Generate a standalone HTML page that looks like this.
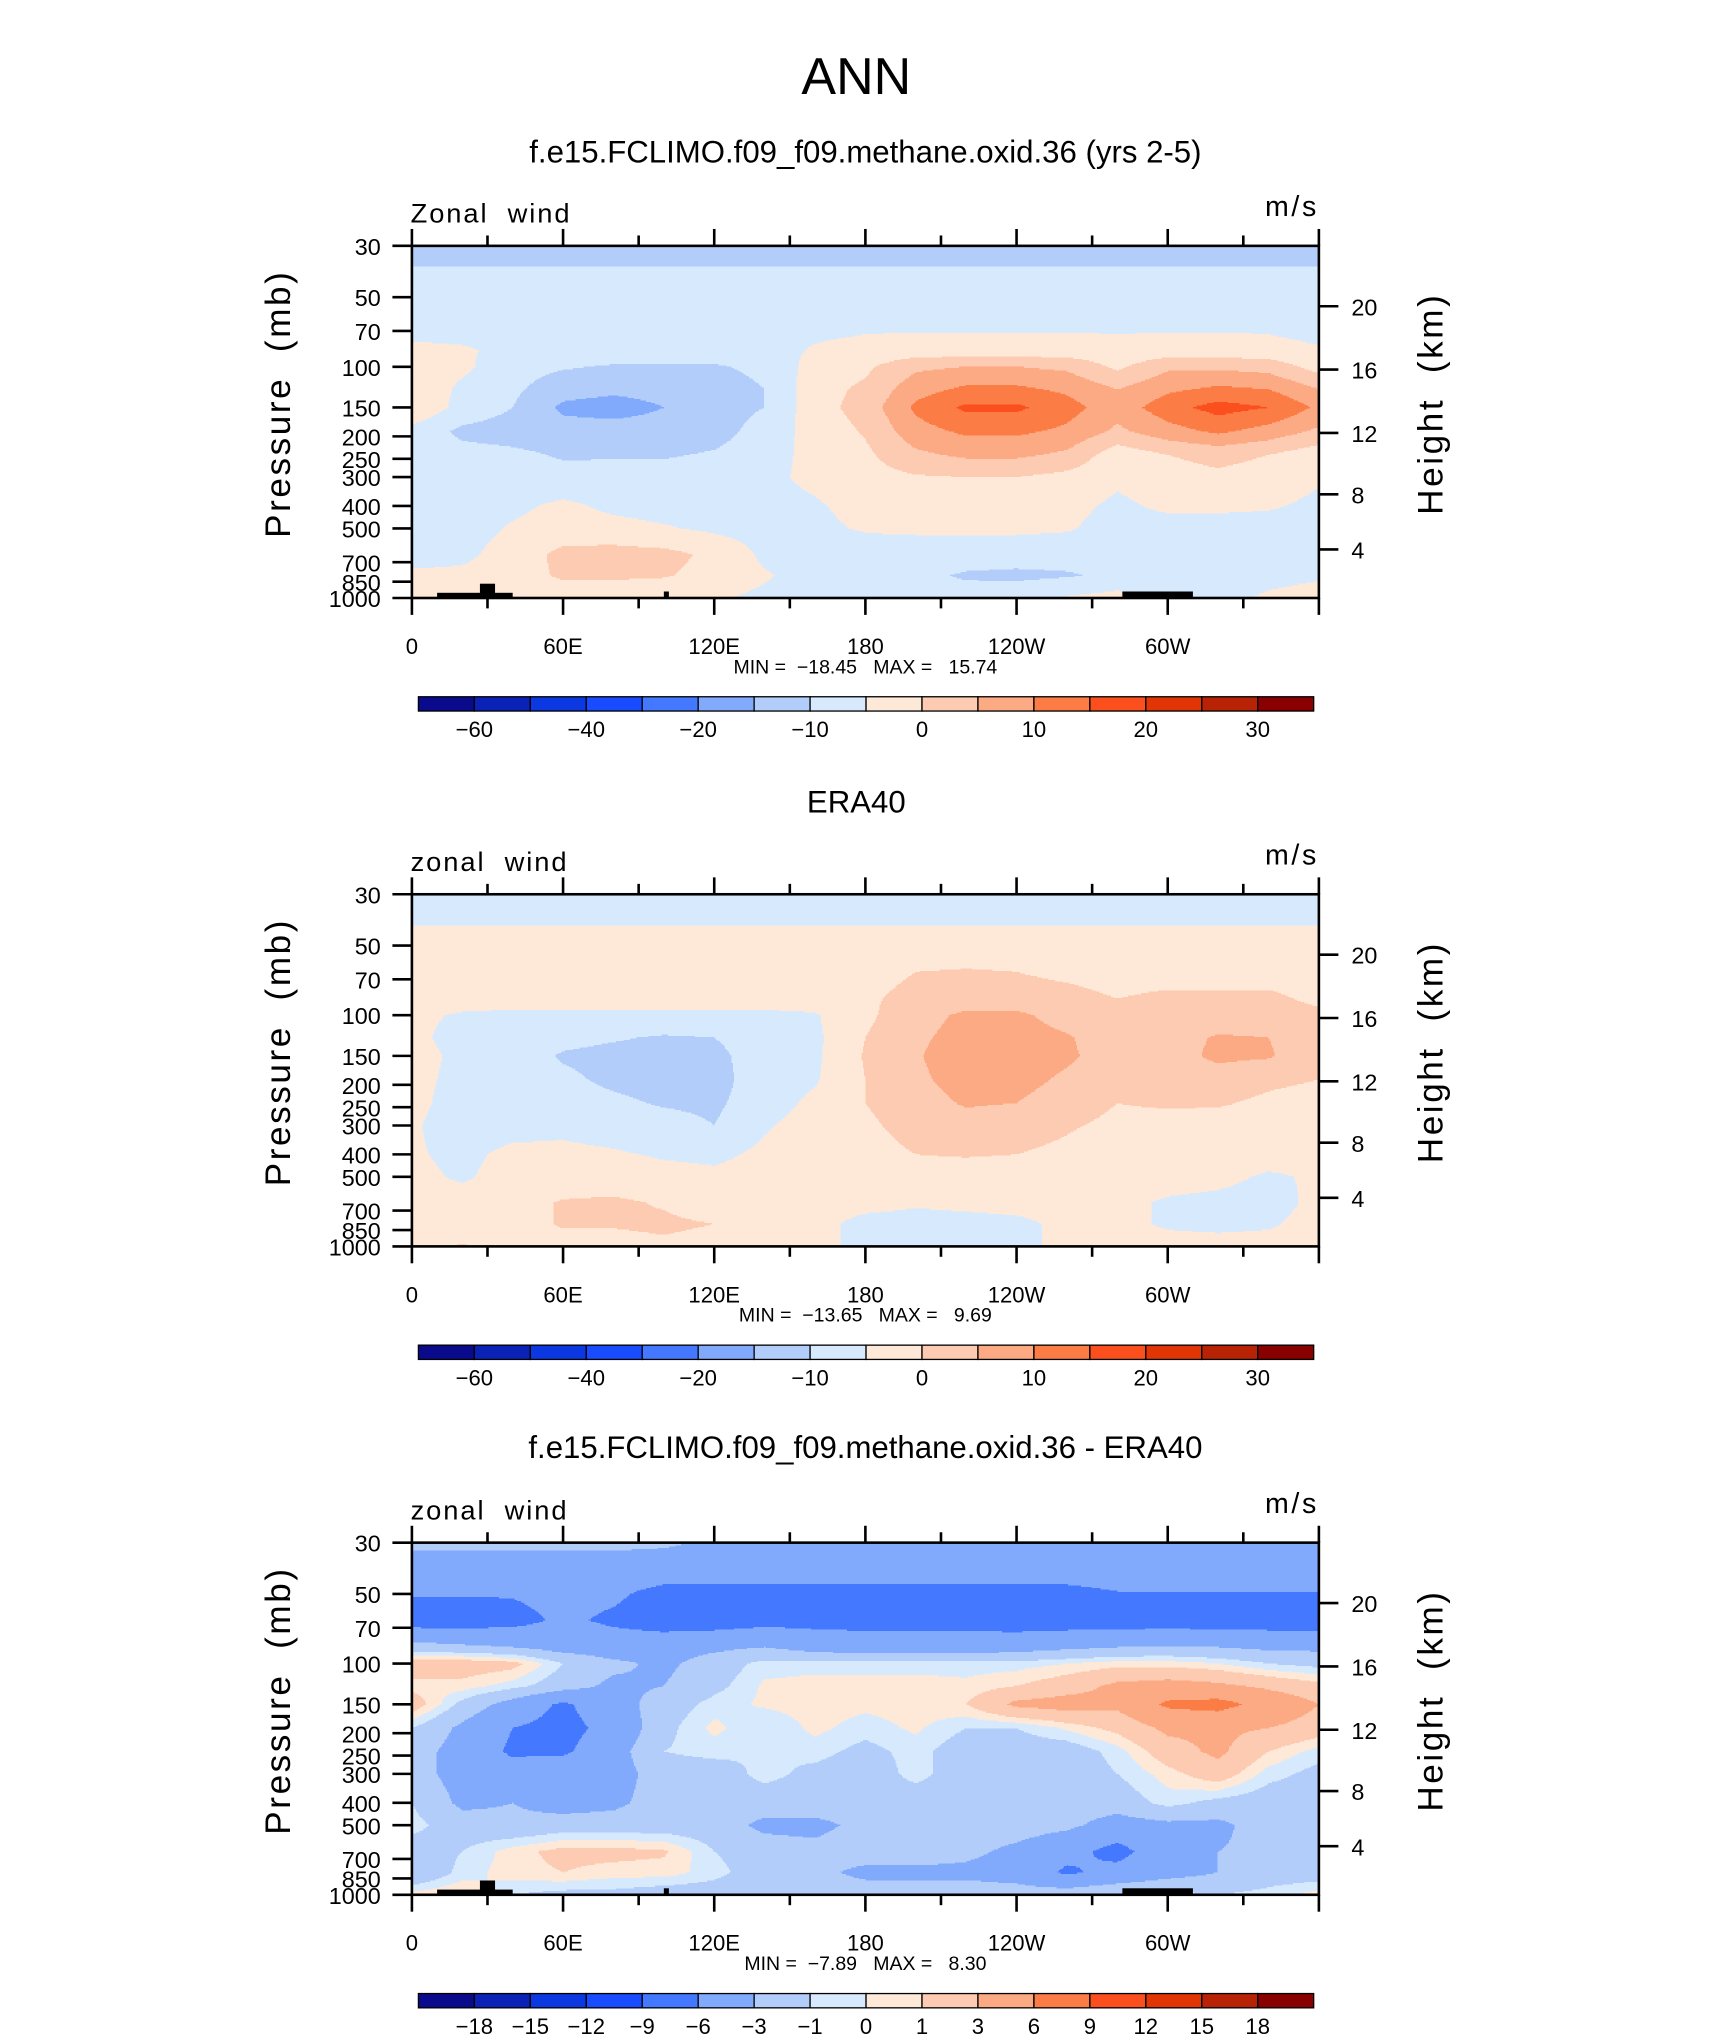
<!DOCTYPE html>
<html><head><meta charset="utf-8">
<style>
html,body{margin:0;padding:0;background:#fff;}
svg{display:block;}
text{font-family:"Liberation Sans",sans-serif;fill:#000;}
</style></head>
<body>
<svg id="fig" xmlns="http://www.w3.org/2000/svg" width="1710" height="2038" viewBox="0 0 1316 1568">
<rect x="0" y="0" width="1316" height="1568" fill="#fff"/>
<text x="659" y="72" font-size="40" text-anchor="middle">ANN</text>
</svg>
<script>
// ---------- DATA ----------
const lons = [0,20,40,60,80,100,120,140,160,180,200,220,240,260,280,300,320,340,360];
const levels = [30,38,50,65,85,100,125,150,190,240,300,400,500,650,800,1000];
const pressureTicks = [30,50,70,100,150,200,250,300,400,500,700,850,1000];
const heightTicks = [4,8,12,16,20];
const lonTickLabels = ["0","60E","120E","180","120W","60W"];
const lonTickValues = [0,60,120,180,240,300];
const absBounds = [-60,-50,-40,-30,-20,-15,-10,-5,0,5,10,15,20,25,30];
const absLabels = ["\u221260","\u221240","\u221220","\u221210","0","10","20","30"];
const absLabelIdx = [0,2,4,6,8,10,12,14];
const diffBounds = [-18,-15,-12,-9,-6,-3,-1,0,1,3,6,9,12,15,18];
const diffLabels = ["\u221218","\u221215","\u221212","\u22129","\u22126","\u22123","\u22121","0","1","3","6","9","12","15","18"];
const diffLabelIdx = [0,1,2,3,4,5,6,7,8,9,10,11,12,13,14];
const colors = ["#0a0a8c","#0b22b6","#0b38e0","#1a4cff","#4479ff","#82aafc","#b3cdfb","#d6e9fd","#fee9d9","#fdcbb1","#fcaa84","#fc7c46","#fc4f1e","#e23505","#b82205","#880000"];

const modelField = [
[-13,-13,-13,-13,-13,-13,-13,-13,-13,-13,-13,-13,-13,-13,-13,-13,-13,-13,-13],
[-9.5,-9.5,-9.5,-9.5,-9.5,-9.5,-9.5,-9.5,-9.5,-9.5,-9.5,-9.5,-9.5,-9.5,-9.5,-9.5,-9.5,-9.5,-9.5],
[-8,-8,-8,-8,-8,-8,-8,-8,-8,-8,-8,-8,-8,-8,-8,-8,-8,-8,-8],
[-7,-7,-7,-7,-7,-7,-7,-7,-6.5,-6,-6,-6,-6,-6,-6,-6,-6,-6,-7],
[-4,-4.5,-6,-7,-7,-7.5,-7.5,-7,-4.5,-3.5,-3,-3,-3,-3,-3.5,-3,-3,-3.5,-4.5],
[-3,-4,-8,-9.5,-10.5,-10.5,-10.5,-9,-3,-1,4,5,5,4,-1,4,4,3,-2],
[-1,-6,-9,-13,-14,-13.5,-12,-10,-2,1,8,11,11,9,5,9,11,10,5],
[0,-7,-10,-16,-17,-15,-12,-10,-2,2,11,16,16,12,7,13,17,15,9],
[-7,-11,-12,-13,-13,-13,-12,-8,-3,0.5,8,11,11,9,4,8,11,8,4],
[-8,-8.5,-9,-10.5,-10.5,-10.5,-9.5,-7,-3.5,-1,4,6,6,4,-3,0,1.5,0,-3],
[-8,-8,-8,-8.5,-8,-8,-7.5,-6,-4,-2,-0.5,0,0,-1.5,-4,-2,-1,-2,-4.5],
[-8,-7.5,-6,-4,-6,-7,-7,-6.5,-5.5,-3.5,-3,-3,-3,-3.5,-6,-4,-4,-4.5,-6],
[-8,-7,-4.5,-3,-3.5,-4.5,-6,-7,-6,-4.5,-4,-4,-4,-4.5,-7,-7,-7,-7,-7],
[-7,-6,-3,1.5,2,1.5,-1,-6,-8,-7.5,-8,-8,-8,-8,-8,-9,-7.5,-8,-7],
[-4,-4,-3,1,1,0.5,-2,-4.5,-7,-8,-9,-10.5,-11,-10.5,-9,-7,-8,-7,-6],
[-2,1,-2,-4,-4.5,-4.5,-4.5,-6,-6,-7,-8,-8,-7,-4.5,-3,-6,-7,-4,-2]
];
const eraField = [
[-8,-8,-8,-8,-8,-8,-8,-8,-8,-8,-8,-8,-8,-8,-8,-8,-8,-8,-8],
[-5.5,-5.5,-5.5,-5.5,-5.5,-5.5,-5.5,-5.5,-5.5,-5.5,-5.5,-5.5,-5.5,-5.5,-5.5,-5.5,-5.5,-5.5,-5.5],
[-3.5,-3.5,-3.5,-3.5,-3.5,-3.5,-3.5,-3.5,-3.5,-3.5,-3.5,-3.5,-3.5,-3.5,-3.5,-3.5,-3.5,-3.5,-3.5],
[-3,-3,-3,-3,-3,-3,-3,-3,-3,-2.5,0,0.5,0,-1,-2,-2,-2,-2,-2.5],
[-3,-3,-3,-3,-3,-3,-3,-3,-2.5,-1,2,2,2,1.5,0,1,1,1,-1],
[-4,-5.5,-6,-6,-6,-6,-6,-6,-5.5,-1,3,6,6,3,1.5,1.5,2,2,1],
[-4,-6.5,-7,-8.5,-9.5,-10.5,-10,-7,-6,0,4,7,7,5.5,2,3,5.5,5,2],
[-3.5,-6,-7.5,-10.5,-11.5,-12,-11.5,-7,-6,0.5,4.5,8,7.5,6,2,3,6,5.5,2],
[-4,-6,-8,-9,-11,-12,-12,-7,-5.5,0,4,7,7,4,1,2,3,1,0],
[-4,-6.5,-7,-8,-9,-10.5,-11,-7,-4,0,3,5.5,5,2,0,0.5,0.5,-1,-2],
[-4.5,-7,-6.5,-6,-7,-8,-10,-5.5,-3,-1,2,3,2,0.5,-1,-1.5,-2,-3,-3],
[-4.5,-6,-4,-4,-4.5,-5.5,-6,-4,-3,-2,0,0.5,0,-1,-3,-3,-3,-3.5,-3.5],
[-4,-5.5,-3.5,-3,-3,-3.5,-4,-3.5,-3,-3,-2.5,-3,-3,-3,-3.5,-3.5,-4,-5.5,-4.5],
[-3.5,-3.5,-2,0.5,1,-0.5,-3,-3.5,-3.5,-4,-4.5,-4,-3.5,-3.5,-4,-5.5,-6,-6.5,-4],
[-3,-3,-2,0.5,0.5,1,0,-3,-4,-6,-6.5,-6.5,-6,-4,-4,-5.5,-6,-5.5,-3.5],
[-2,0.5,-2,-2,-2,-1,-2,-3.5,-4,-6,-6.5,-6.5,-6,-4,-3,-3.5,-3.5,-3.5,-3]
];
const diffField = [
[-2.5,-2.5,-2.5,-2.5,-2.5,-2.7,-3.3,-3.5,-3.5,-3.5,-3.5,-3.5,-3.5,-3.5,-3.5,-3.5,-3.5,-3.5,-3.5],
[-4,-4,-4,-4,-4,-4,-4,-4,-4,-4,-4,-4,-4,-4,-4,-4,-4,-4,-4],
[-5.8,-5.8,-5.8,-5,-5.5,-7,-7,-7,-7,-7,-7,-7,-7,-7,-6.2,-6.2,-6.2,-6.2,-6.2],
[-7.5,-7.5,-7,-5.5,-6.5,-7.5,-7.5,-7,-7,-7,-7,-7,-7.5,-7.5,-7.5,-7.5,-7.5,-7.5,-7.5],
[-2,-2.5,-3,-4,-4.5,-4,-3.5,-3,-4,-4.5,-4.5,-4.5,-4,-3.5,-3,-2.8,-3,-3.5,-3.5],
[2,2,1.5,-1,-2.5,-3.5,-2,-0.5,-0.5,-0.5,-0.5,-0.5,-0.5,0,0.5,0.5,0,-1,-1.5],
[0.5,0.5,-0.5,-2,-3.5,-3,-1.5,0.2,0.5,0.5,0.5,0.3,1,2,3.5,4,3.5,2.5,1.5],
[2,-1.5,-4,-6.5,-4,-2,-0.5,0.2,0.5,0.3,0.5,1,3.5,4,3.5,6.5,7,5,3],
[-1,-3.5,-6,-7,-5,-1.5,0.3,-1,0.3,-0.5,0.2,-1,-1,0.2,1.5,3.5,3.5,3,2],
[-2,-4,-6.5,-6.5,-4,-1,-0.5,-1,-0.5,-1.5,-0.5,-2,-2,-2,-0.5,2,3.5,1,-0.5],
[-2,-4,-4.5,-3.5,-4,-2,-2,-0.5,-1.5,-2,-0.5,-2,-2,-2,-1,0.5,2,-0.5,-1.5],
[-1,-3.5,-3,-4,-3.5,-2,-2,-2,-2,-2,-2,-2,-2,-2,-2,-0.5,-1.5,-2,-2],
[-0.5,-2,-2.5,-2,-2,-2,-2,-3.5,-3.5,-2.5,-2,-2,-2,-2.5,-4,-3.5,-3.5,-2,-2],
[-2,-1,0.5,1.5,1.5,1.2,-1,-2,-2.5,-2,-2,-2.5,-3.5,-5,-7,-4,-3,-2.5,-2],
[-3,-0.5,0.5,1,0.5,0.5,-0.5,-2,-2.5,-3.5,-3.5,-3.5,-4,-6.5,-5,-4,-3,-2,-2],
[0.5,1,-1,-1.5,-1.5,-2,-2,-2.5,-2,-2,-2,-2,-2,-1.5,-1,-0.5,-1,-0.5,0.5]
];
const panelTitles = ["f.e15.FCLIMO.f09_f09.methane.oxid.36 (yrs 2-5)","ERA40","f.e15.FCLIMO.f09_f09.methane.oxid.36 - ERA40"];
const varNames = ["Zonal wind","zonal wind","zonal wind"];
const minVals = ["\u221218.45","\u221213.65","\u22127.89"];
const maxVals = ["15.74","9.69","8.30"];

// ---------- LAYOUT ----------
const NS="http://www.w3.org/2000/svg";
const svg=document.getElementById('fig');
const X0=317, X1=1015, PH=271;
const tops=[189,688,1187];
const titleY=[125,625,1122];
const titleX=[666,659,666];
function el(tag,attrs,parent){const e=document.createElementNS(NS,tag);for(const k in attrs)e.setAttribute(k,attrs[k]);(parent||svg).appendChild(e);return e;}
function xScale(lon){return X0+lon/360*(X1-X0);}
function yScale(p,top){return top+Math.log(p/30)/Math.log(1000/30)*PH;}
function heightToP(z){return z<=11?1013.25*Math.pow(1-z/44.33,5.256):226.3*Math.exp(-(z-11)/6.341);}

function valueAt(field,lon,p){
  let i=0;while(i<lons.length-2&&lon>lons[i+1])i++;
  let j=0;while(j<levels.length-2&&p>levels[j+1])j++;
  const tx=(lon-lons[i])/(lons[i+1]-lons[i]);
  const ty=(Math.log(p)-Math.log(levels[j]))/(Math.log(levels[j+1])-Math.log(levels[j]));
  const a=field[j][i],b=field[j][i+1],c=field[j+1][i],d=field[j+1][i+1];
  return (a*(1-tx)+b*tx)*(1-ty)+(c*(1-tx)+d*tx)*ty;
}
function levelIndex(v,bounds){let k=0;while(k<bounds.length&&v>=bounds[k])k++;return k;}

function drawPanel(n,field,bounds,labels,labelIdx,topo){
  const top=tops[n];
  const g=el('g',{});
  
  
  const t=el('text',{x:titleX[n],y:titleY[n],'font-size':24,'text-anchor':'middle'},g);
  t.textContent=panelTitles[n];
  
  
  const fg=el('g',{'shape-rendering':'crispEdges'},g);
  
  
  const W=X1-X0, step=1;
  for(let r=0;r<PH;r+=step){
    const p=30*Math.exp((r+0.5)/PH*Math.log(1000/30));
    let runStart=0,runK=-1;
    for(let c=0;c<=W;c++){
      let k=-2;
      if(c<W){const lon=(c+0.5)/W*360;k=levelIndex(valueAt(field,lon,p),bounds);}
      if(k!==runK){
        if(runK>=0){const cell=el('rect',{x:X0+runStart,y:top+r,width:c-runStart+0.4,height:step+0.4,fill:colors[runK]},fg);
          
          }
        runStart=c;runK=k;
      }
    }
  }
  topo.forEach(tp=>{const r=el('rect',{x:xScale(tp[0]),y:top+PH-tp[2],width:xScale(tp[1])-xScale(tp[0]),height:tp[2],fill:'#000'},g);
    
    });
  const fr=el('rect',{x:X0,y:top,width:X1-X0,height:PH,fill:'none',stroke:'#000','stroke-width':2},g);
  
  
  for(let lon=0;lon<=360;lon+=30){
    const maj=lon%60===0, L=maj?13:8, x=xScale(lon);
    el('line',{x1:x,y1:top,x2:x,y2:top-L,stroke:'#000','stroke-width':2},g);
    el('line',{x1:x,y1:top+PH,x2:x,y2:top+PH+L,stroke:'#000','stroke-width':2},g);
  }
  lonTickValues.forEach((v,i)=>{const tx=el('text',{x:xScale(v),y:top+PH+43,'font-size':17,'text-anchor':'middle'},g);tx.textContent=lonTickLabels[i];
    
    });
  pressureTicks.forEach(pv=>{const y=yScale(pv,top);
    el('line',{x1:X0,y1:y,x2:X0-15,y2:y,stroke:'#000','stroke-width':2},g);
    const tx=el('text',{x:X0-24,y:y+7,'font-size':18,'text-anchor':'end'},g);tx.textContent=pv;
    
    });
  heightTicks.forEach(z=>{const y=yScale(heightToP(z),top);
    el('line',{x1:X1,y1:y,x2:X1+15,y2:y,stroke:'#000','stroke-width':2},g);
    const tx=el('text',{x:X1+25,y:y+7,'font-size':18},g);tx.textContent=z;
    
    });
  const my=top+PH/2-14;
  const yl=el('text',{x:0,y:0,'font-size':27,'text-anchor':'middle','letter-spacing':'2',transform:`translate(223,${my}) rotate(-90)`,style:'white-space:pre'},g);
  yl.textContent='Pressure  (mb)';
  
  
  const yr=el('text',{x:0,y:0,'font-size':27,'text-anchor':'middle','letter-spacing':'2',transform:`translate(1110,${my}) rotate(-90)`,style:'white-space:pre'},g);
  yr.textContent='Height  (km)';
  
  
  const vn=el('text',{x:X0-1,y:top-18,'font-size':21,'letter-spacing':'1.5',style:'white-space:pre'},g);vn.textContent=varNames[n].replace(' ','  ');
  
  
  const un=el('text',{x:X1,y:top-23,'font-size':22,'text-anchor':'end','letter-spacing':'2'},g);un.textContent='m/s';
  
  
  const mm=el('text',{x:666,y:top+PH+58,'font-size':15,'text-anchor':'middle',style:'white-space:pre'},g);
  mm.textContent='MIN =  '+minVals[n]+'   MAX =   '+maxVals[n];
  
  
  const cb=el('g',{},g);
  
  
  const cx0=322,cx1=1011,cy=top+PH+76,ch=11,bw=(cx1-cx0)/16;
  colors.forEach((c,i)=>{const r=el('rect',{x:cx0+i*bw,y:cy,width:bw,height:ch,fill:c,stroke:'#000','stroke-width':1},cb);
    
    });
  labels.forEach((lb,i)=>{const tx=el('text',{x:cx0+(labelIdx[i]+1)*bw,y:cy+31,'font-size':17,'text-anchor':'middle'},cb);tx.textContent=lb;
    
    });
}
const topoModel=[[10,40,4],[27,33,11],[100,102,5],[282,310,5]];
drawPanel(0,modelField,absBounds,absLabels,absLabelIdx,topoModel);
drawPanel(1,eraField,absBounds,absLabels,absLabelIdx,[]);
drawPanel(2,diffField,diffBounds,diffLabels,diffLabelIdx,topoModel);
</script>
</body></html>
